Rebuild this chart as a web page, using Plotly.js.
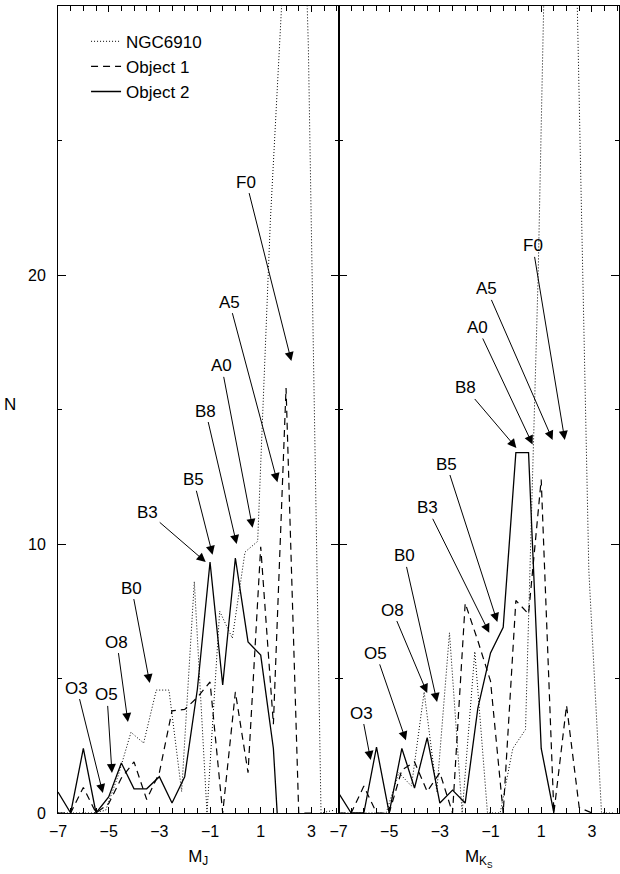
<!DOCTYPE html>
<html>
<head>
<meta charset="utf-8">
<script src="https://cdn.plot.ly/plotly-3.0.1.min.js"></script>
<style>
  body { margin: 0; background: #fff; }
  #chart { width: 620px; height: 874px; }
</style>
</head>
<body>
<div id="chart"></div>
<script>
// bin centres
var binsObj = [-7, -6.5, -6, -5.5, -5, -4.5, -4, -3.5, -3, -2.5, -2, -1.5, -1, -0.5, 0, 0.5, 1, 1.5, 2, 2.5, 3];
var binsNgc = [-7.12, -6.62, -6.12, -5.62, -5.12, -4.62, -4.12, -3.62, -3.12, -2.62, -2.12, -1.62, -1.12, -0.62, -0.12, 0.38, 0.88, 1.38, 1.88, 2.38, 2.88, 3.38, 3.88];
var binsObj2J = [-7, -6.5, -6, -5.5, -5, -4.5, -4, -3.5, -3, -2.5, -2, -1.5, -1, -0.5, 0, 0.5, 1, 1.5, 1.65];
var binsObj2K = [-7, -6.5, -6, -5.5, -5, -4.5, -4, -3.5, -3, -2.5, -2, -1.5, -1, -0.5, 0, 0.5, 1, 1.5];

// M_J counts
var ngcJ  = [0, 0, 0, 0, 0.1, 1.4, 3.0, 2.6, 4.57, 4.57, 0.8, 8.6, 0, 7.5, 6.5, 9.7, 10.1, 22, 31, 45, 28.5, 0, 0.1];
var obj1J = [0, 0, 0.95, 0, 0.35, 1.3, 1.9, 0.5, 1.5, 3.8, 3.85, 4.3, 4.87, 0, 4.5, 1.5, 9.9, 3.3, 15.8, 0, 0];
var obj2J = [0.78, 0, 2.4, 0, 0.6, 1.86, 0.9, 0.9, 1.35, 0.37, 1.35, 4.6, 9.33, 4.76, 9.48, 6.36, 5.87, 2.4, 0];

// M_Ks counts
var ngcK  = [0, 0, 0, 0, 0, 1.5, 1.0, 4.5, 0.8, 6.7, 0, 6.0, 0, 0, 2.4, 3.1, 20, 43, 50, 32, 9, 0, 0];
var obj1K = [0, 0, 1.0, 0, 0, 1.6, 1.9, 0.8, 1.5, 0, 7.8, 6.4, 4.9, 0, 7.9, 7.4, 12.4, 0, 4.0, 0.2, 0];
var obj2K = [0.75, 0, 0, 2.45, 0, 2.4, 0.93, 2.8, 0.37, 0.85, 0.37, 3.9, 5.95, 6.9, 13.4, 13.4, 2.4, 0];

// spectral type markers
var sptLabels = ["O3", "O5", "O8", "B0", "B3", "B5", "B8", "A0", "A5", "F0"];
var sptJx = [-5.23, -4.87, -4.24, -3.38, -1.17, -0.9, 0.05, 0.68, 1.66, 2.21];
var sptJy = [0.74, 1.49, 3.38, 4.83, 9.33, 9.6, 10.0, 10.6, 12.3, 16.8];
var sptKx = [-5.73, -4.34, -3.5, -3.11, -1.05, -0.73, 0.02, 0.66, 1.45, 1.93];
var sptKy = [1.97, 2.7, 4.46, 4.13, 6.7, 7.1, 13.57, 13.7, 13.87, 13.87];

// label offsets from arrow tips (pixels)
var offJ = [[-26, -105], [-5, -78], [-11, -80], [-18, -95], [-58, -50], [-19, -75], [-31, -133], [-31, -162], [-48, -180], [-45, -179]];
var offK = [[-9, -47], [-30, -87], [-35, -83], [-33, -146], [-62, -125], [-51, -158], [-51, -60], [-55, -117], [-66, -151], [-32, -194]];

var dotted = {color: "black", width: 1, dash: "1px,2px"};
var dashed = {color: "black", width: 1.2, dash: "7px,5px"};
var solid = {color: "black", width: 1.3};

var data = [
  {x: binsNgc, y: ngcJ, mode: "lines", name: "NGC6910", line: dotted, xaxis: "x", yaxis: "y"},
  {x: binsObj, y: obj1J, mode: "lines", name: "Object 1", line: dashed, xaxis: "x", yaxis: "y"},
  {x: binsObj2J, y: obj2J, mode: "lines", name: "Object 2", line: solid, xaxis: "x", yaxis: "y"},
  {x: binsNgc, y: ngcK, mode: "lines", showlegend: false, line: dotted, xaxis: "x2", yaxis: "y2"},
  {x: binsObj, y: obj1K, mode: "lines", showlegend: false, line: dashed, xaxis: "x2", yaxis: "y2"},
  {x: binsObj2K, y: obj2K, mode: "lines", showlegend: false, line: solid, xaxis: "x2", yaxis: "y2"}
];

var annots = [];
for (var i = 0; i < sptLabels.length; i++) {
  annots.push({x: sptJx[i], y: sptJy[i], xref: "x", yref: "y", text: sptLabels[i],
    showarrow: true, ax: offJ[i][0], ay: offJ[i][1], arrowhead: 2, arrowsize: 1.8,
    arrowwidth: 1, arrowcolor: "black", font: {size: 17}});
  annots.push({x: sptKx[i], y: sptKy[i], xref: "x2", yref: "y2", text: sptLabels[i],
    showarrow: true, ax: offK[i][0], ay: offK[i][1], arrowhead: 2, arrowsize: 1.8,
    arrowwidth: 1, arrowcolor: "black", font: {size: 17}});
}
annots.push({x: -0.1, y: 0.506, xref: "paper", yref: "paper", text: "N", showarrow: false, font: {size: 17}});

function xax(dom, anchor, title) {
  return {
    domain: dom, anchor: anchor, range: [-7, 4.07],
    tick0: -7, dtick: 2, ticks: "inside", ticklen: 6, tickcolor: "black",
    minor: {tick0: -7, dtick: 0.5, ticks: "inside", ticklen: 5, tickcolor: "black"},
    showline: true, linecolor: "black", linewidth: 1, mirror: "ticks",
    showgrid: false, zeroline: false, ticklabelstandoff: 4,
    title: {text: title, standoff: 10, font: {size: 17}}
  };
}
function yax(anchor, labels) {
  return {
    anchor: anchor, range: [0, 30], dtick: 10, ticks: "inside", ticklen: 8, tickcolor: "black",
    minor: {dtick: 5, ticks: "inside", ticklen: 4, tickcolor: "black"},
    showline: true, linecolor: "black", linewidth: 1, mirror: "ticks",
    showgrid: false, zeroline: false, showticklabels: labels, ticklabelstandoff: 8
  };
}

var layout = {
  width: 620, height: 874,
  margin: {l: 58, r: 1, t: 6, b: 61},
  paper_bgcolor: "white", plot_bgcolor: "white",
  font: {family: "Liberation Sans, Arial, sans-serif", size: 16, color: "black"},
  xaxis: xax([0, 0.5], "y", "M<sub>J</sub>"),
  xaxis2: xax([0.5, 1], "y2", "M<sub>K<sub>S</sub></sub>"),
  yaxis: yax("x", true),
  yaxis2: yax("x2", false),
  showlegend: true,
  legend: {x: 0.05, y: 0.978, xanchor: "left", yanchor: "top", bgcolor: "rgba(0,0,0,0)",
    font: {size: 17}, tracegroupgap: 0},
  annotations: annots
};

Plotly.newPlot("chart", data, layout, {displayModeBar: false, staticPlot: true});
</script>
</body>
</html>
